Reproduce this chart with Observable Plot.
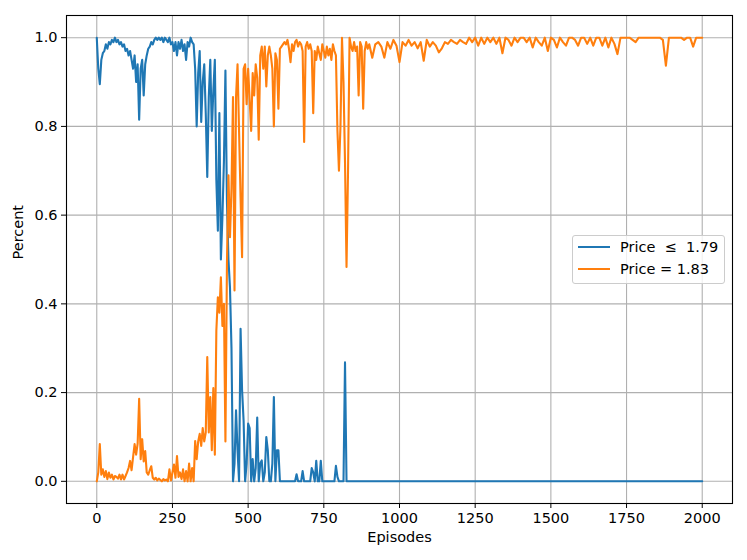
<!DOCTYPE html>
<html>
<head>
<meta charset="utf-8">
<script src="https://cdn.jsdelivr.net/npm/d3@7"></script>
<script src="https://cdn.jsdelivr.net/npm/@observablehq/plot@0.6"></script>
<style>
  html, body { margin: 0; padding: 0; background: #fff; }
  #wrap { position: relative; width: 747px; height: 560px; font-family: "DejaVu Sans", sans-serif; }
  #legend {
    position: absolute; left: 572px; top: 235px; width: 151px; height: 47px;
    border: 1px solid #cccccc; border-radius: 3px; background: rgba(255,255,255,0.8);
    font-size: 14.5px; color: #000;
  }
  .row { position: absolute; left: 0; height: 20px; }
  .sw { position: absolute; left: 5px; width: 32px; height: 2.2px; }
  .lbl { position: absolute; left: 47px; white-space: pre; line-height: 20px; top: 0; }
</style>
</head>
<body>
<div id="wrap"><div id="legend"></div></div>
<script>
// Series labels and colours
const seriesNames = ["Price  \u2264  1.79", "Price = 1.83"];
const seriesColors = ["#1f77b4", "#ff7f0e"];

// Tick values
const xTicks = [0, 250, 500, 750, 1000, 1250, 1500, 1750, 2000];
const yTicks = [0.0, 0.2, 0.4, 0.6, 0.8, 1.0];

// Episodes: every 5 episodes up to 900, every 10 afterwards
const episodesEarly = d3.range(0, 901, 5);
const episodesLate = d3.range(910, 2001, 10);

// Share of "Price <= 1.79" (episodes 0..900 step 5), then flat zero to 2000
const blueEarly = [
  1.0, 0.93, 0.895, 0.95, 0.965, 0.97, 0.985, 0.975, 0.99, 0.985,
  0.995, 0.99, 1.0, 0.99, 0.995, 0.985, 0.99, 0.98, 0.985, 0.97,
  0.975, 0.96, 0.97, 0.95, 0.93, 0.96, 0.90, 0.94, 0.815, 0.93,
  0.95, 0.87, 0.94, 0.96, 0.975, 0.98, 0.99, 0.985, 0.995, 1.0,
  0.995, 1.0, 0.995, 1.0, 0.99, 1.0, 0.995, 0.99, 1.0, 0.985,
  0.99, 0.97, 0.99, 0.96, 0.99, 0.975, 0.995, 0.97, 0.985, 0.95,
  0.99, 0.98, 1.0, 0.99, 0.985, 0.93, 0.80, 0.92, 0.97, 0.81,
  0.90, 0.94, 0.83, 0.686, 0.866, 0.95, 0.79, 0.88, 0.95, 0.68,
  0.565, 0.83, 0.50, 0.595, 0.72, 0.926, 0.63, 0.50, 0.437, 0.30,
  0.0, 0.04, 0.16, 0.07, 0.0, 0.344, 0.205, 0.137, 0.0, 0.04,
  0.13, 0.12, 0.0, 0.05, 0.0, 0.03, 0.144, 0.0, 0.04, 0.047,
  0.0, 0.02, 0.10, 0.07, 0.0, 0.0, 0.04, 0.19, 0.0, 0.07,
  0.07, 0.0, 0, 0, 0, 0, 0, 0, 0, 0,
  0, 0, 0.016, 0, 0, 0, 0.023, 0, 0, 0,
  0, 0, 0.03, 0.02, 0, 0.046, 0, 0, 0.046, 0,
  0, 0, 0, 0, 0, 0, 0, 0, 0.035, 0.01,
  0, 0, 0, 0, 0.268, 0, 0, 0, 0, 0,
  0, 0, 0, 0, 0, 0, 0, 0, 0, 0,
  0
];
const blueEnd = [2000, 0];

// Share of "Price = 1.83" (episodes 0..900 step 5)
const orangeEarly = [
  0.0, 0.02, 0.084, 0.015, 0.027, 0.01, 0.023, 0.005, 0.02, 0.008,
  0.015, 0.004, 0.012, 0.01, 0.006, 0.015, 0.004, 0.015, 0.004, 0.012,
  0.02, 0.03, 0.046, 0.025, 0.055, 0.084, 0.06, 0.085, 0.186, 0.05,
  0.095, 0.045, 0.068, 0.02, 0.015, 0.025, 0.034, 0.008, 0.004, 0.008,
  0.002, 0.006, 0.003, 0.0, 0.005, 0.002, 0.004, 0.0, 0.027, 0.002,
  0.02, 0.038, 0.008, 0.057, 0.01, 0.02, 0.005, 0.027, 0.0, 0.023,
  0.0, 0.04, 0.0, 0.03, 0.0, 0.091, 0.05, 0.09, 0.107, 0.08,
  0.12, 0.09, 0.11, 0.28, 0.11, 0.19, 0.07, 0.21, 0.06, 0.34,
  0.415, 0.38, 0.46, 0.35, 0.40, 0.09, 0.49, 0.69, 0.55, 0.66,
  0.866, 0.43, 0.866, 0.94, 0.79, 0.64, 0.505, 0.93, 0.94, 0.85,
  0.93, 0.86, 0.79, 0.92, 0.87, 0.94, 0.91, 0.77, 0.96, 0.98,
  0.93, 0.98, 0.89, 0.96, 0.98, 0.96, 0.93, 0.80, 0.965, 0.95,
  0.84, 0.975, 0.98, 0.985, 0.99, 0.985, 0.995, 0.975, 0.945, 0.985,
  0.97, 0.99, 0.995, 0.98, 0.99, 0.985, 0.97, 0.765, 0.98, 0.99,
  0.975, 0.985, 0.97, 0.83, 0.97, 0.95, 0.98, 0.965, 0.95, 0.985,
  0.97, 0.955, 0.98, 0.96, 0.975, 0.95, 0.985, 0.97, 0.96, 0.79,
  0.70, 0.80, 1.0, 0.90, 0.72, 0.483, 0.70, 1.0, 0.98, 0.97,
  0.99, 0.97, 0.98, 0.87, 0.99, 0.98, 0.84, 0.97, 0.99, 0.975,
  0.985
];
// Share of "Price = 1.83" (episodes 910..2000 step 10)
const orangeLate = [
  0.955, 0.985, 0.99, 0.98, 0.955, 0.99, 0.975, 0.995, 0.982, 0.945,
  0.99, 0.982, 0.995, 0.982, 0.99, 0.976, 0.99, 0.948, 0.995, 0.98,
  0.99, 0.982, 0.967, 0.976, 0.99, 0.986, 0.995, 0.99, 0.986, 0.995,
  0.99, 0.986, 1.0, 0.99, 1.0, 0.982, 1.0, 0.986, 1.0, 0.99,
  1.0, 0.986, 1.0, 0.965, 1.0, 0.995, 0.982, 1.0, 0.99, 1.0,
  1.0, 0.99, 1.0, 0.978, 1.0, 0.99, 0.982, 1.0, 0.97, 1.0,
  0.995, 0.978, 1.0, 0.99, 0.982, 1.0, 1.0, 0.995, 0.982, 1.0,
  1.0, 0.986, 1.0, 0.982, 1.0, 1.0, 0.982, 1.0, 0.978, 1.0,
  0.986, 0.963, 1.0, 1.0, 1.0, 1.0, 0.995, 0.99, 1.0, 1.0,
  1.0, 1.0, 1.0, 1.0, 1.0, 1.0, 0.995, 0.937, 1.0, 1.0,
  1.0, 1.0, 1.0, 0.995, 1.0, 1.0, 0.98, 1.0, 1.0, 1.0
];

// Build tables
const blueData = episodesEarly.map((ep, i) => ({ep, v: blueEarly[i]}))
  .concat([{ep: blueEnd[0], v: blueEnd[1]}]);
const orangeData = episodesEarly.map((ep, i) => ({ep, v: orangeEarly[i]}))
  .concat(episodesLate.map((ep, i) => ({ep, v: orangeLate[i]})));

const chart = Plot.plot({
  width: 747,
  height: 560,
  marginLeft: 66,
  marginRight: 15,
  marginTop: 15,
  marginBottom: 57,
  style: {fontFamily: "DejaVu Sans, sans-serif", fontSize: "14.5px", color: "#000", background: "#fff"},
  x: {domain: [-100, 2100]},
  y: {domain: [-0.05, 1.05]},
  marks: [
    Plot.gridX(xTicks, {stroke: "#b0b0b0", strokeOpacity: 1, strokeWidth: 1.1}),
    Plot.gridY(yTicks, {stroke: "#b0b0b0", strokeOpacity: 1, strokeWidth: 1.1}),
    Plot.lineY(blueData, {x: "ep", y: "v", stroke: seriesColors[0], strokeWidth: 2.1, strokeLinejoin: "round"}),
    Plot.lineY(orangeData, {x: "ep", y: "v", stroke: seriesColors[1], strokeWidth: 2.1, strokeLinejoin: "round"}),
    Plot.frame({stroke: "#000", strokeWidth: 1.1}),
    Plot.axisX(xTicks, {tickSize: 5, tickPadding: 4, tickFormat: d => String(d), label: null, fontSize: 14.5}),
    Plot.axisY(yTicks, {tickSize: 5, tickPadding: 4, tickFormat: d3.format(".1f"), label: null, fontSize: 14.5}),
    Plot.text(["Episodes"], {frameAnchor: "bottom", dy: 38, fontSize: 14.5, fill: "#000"}),
    Plot.text(["Percent"], {frameAnchor: "left", dx: -48, rotate: -90, fontSize: 14.5, fill: "#000"})
  ]
});
document.getElementById("wrap").prepend(chart);

// Legend
const legend = document.getElementById("legend");
seriesNames.forEach((name, i) => {
  const row = document.createElement("div");
  row.className = "row";
  row.style.top = (i === 0 ? 1 : 23) + "px";
  row.style.width = "100%";
  const sw = document.createElement("div");
  sw.className = "sw";
  sw.style.background = seriesColors[i];
  sw.style.top = "9px";
  const lbl = document.createElement("div");
  lbl.className = "lbl";
  lbl.textContent = name;
  row.appendChild(sw);
  row.appendChild(lbl);
  legend.appendChild(row);
});
</script>
</body>
</html>
